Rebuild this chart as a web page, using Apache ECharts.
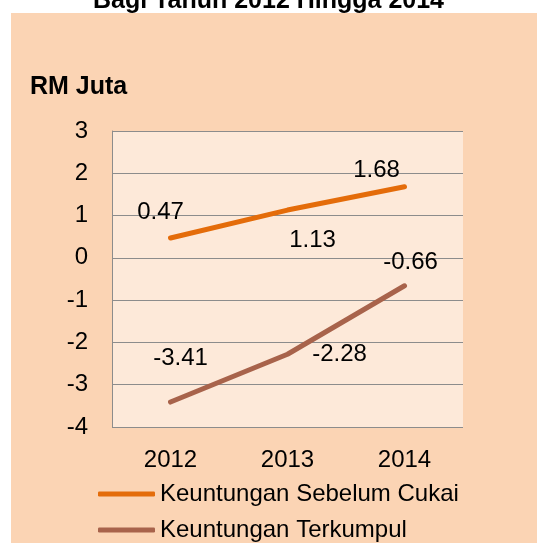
<!DOCTYPE html>
<html>
<head>
<meta charset="utf-8">
<script src="https://cdn.jsdelivr.net/npm/echarts@6/dist/echarts.min.js"></script>
<style>
html,body{margin:0;padding:0;background:#ffffff;}
#chart{width:537px;height:543px;}
</style>
</head>
<body>
<div id="chart"></div>
<script>
// ---- data ----
const years = ['2012', '2013', '2014'];
const sebelumCukai = [0.47, 1.13, 1.68];
const terkumpul = [-3.41, -2.28, -0.66];
const seriesNames = ['Keuntungan Sebelum Cukai', 'Keuntungan Terkumpul'];
const titleText = 'Bagi Tahun 2012 Hingga 2014';
const unitText = 'RM Juta';

// ---- label placement (style only) ----
const offsetsA = [[-10, -26], [25, 30], [-28, -16]];
const offsetsB = [[10, -44], [52, 0], [6, -23]];

const FONT = '"Liberation Sans", Arial, sans-serif';

function withLabels(values, offsets) {
  return values.map((v, i) => ({
    value: v,
    label: { offset: offsets[i] }
  }));
}

function legendFor(name, top) {
  return {
    orient: 'horizontal',
    left: 98,
    top: top,
    padding: 0,
    itemWidth: 57,
    itemHeight: 5,
    icon: 'roundRect',
    textStyle: { fontFamily: FONT, fontSize: 24, color: '#000000' },
    data: [name]
  };
}

const chart = echarts.init(document.getElementById('chart'), null, { renderer: 'canvas' });
chart.setOption({
  animation: false,
  backgroundColor: '#ffffff',
  textStyle: { fontFamily: FONT },
  graphic: [
    {
      type: 'rect', z: -10, silent: true,
      shape: { x: 11, y: 13, width: 526, height: 530 },
      style: { fill: '#FBD4B4' }
    },
    {
      type: 'text', z: 10, left: 30, top: 75,
      style: { text: unitText, font: 'bold 25px ' + FONT, fill: '#000000' }
    }
  ],
  title: {
    text: titleText,
    left: 'center',
    top: -11,
    padding: 0,
    textStyle: { fontFamily: FONT, fontSize: 25, fontWeight: 'bold', color: '#000000' }
  },
  legend: [
    legendFor(seriesNames[0], 482),
    legendFor(seriesNames[1], 518)
  ],
  grid: {
    left: 112, top: 131, right: 74, bottom: 116,
    show: true, backgroundColor: '#FDE9D9', borderWidth: 0
  },
  xAxis: {
    type: 'category',
    data: years,
    boundaryGap: true,
    axisLine: { show: false },
    axisTick: { show: false },
    axisLabel: { fontFamily: FONT, fontSize: 24, color: '#000000', margin: 21 }
  },
  yAxis: {
    type: 'value',
    min: -4, max: 3, interval: 1,
    axisLine: { show: true, lineStyle: { color: '#8C8C8C', width: 1 } },
    axisTick: { show: false },
    splitLine: { show: true, lineStyle: { color: '#8C8C8C', width: 1 } },
    axisLabel: { fontFamily: FONT, fontSize: 24, color: '#000000', margin: 24 }
  },
  series: [
    {
      name: seriesNames[0],
      type: 'line',
      data: withLabels(sebelumCukai, offsetsA),
      symbol: 'circle', symbolSize: 1, showSymbol: true,
      itemStyle: { color: '#E46C0A' },
      lineStyle: { color: '#E46C0A', width: 5, cap: 'round', join: 'round' },
      label: {
        show: true, position: 'inside', align: 'center', verticalAlign: 'middle',
        fontFamily: FONT, fontSize: 24, color: '#000000'
      }
    },
    {
      name: seriesNames[1],
      type: 'line',
      data: withLabels(terkumpul, offsetsB),
      symbol: 'circle', symbolSize: 1, showSymbol: true,
      itemStyle: { color: '#A8634B' },
      lineStyle: { color: '#A8634B', width: 5, cap: 'round', join: 'round' },
      label: {
        show: true, position: 'inside', align: 'center', verticalAlign: 'middle',
        fontFamily: FONT, fontSize: 24, color: '#000000'
      }
    }
  ]
});
</script>
</body>
</html>
